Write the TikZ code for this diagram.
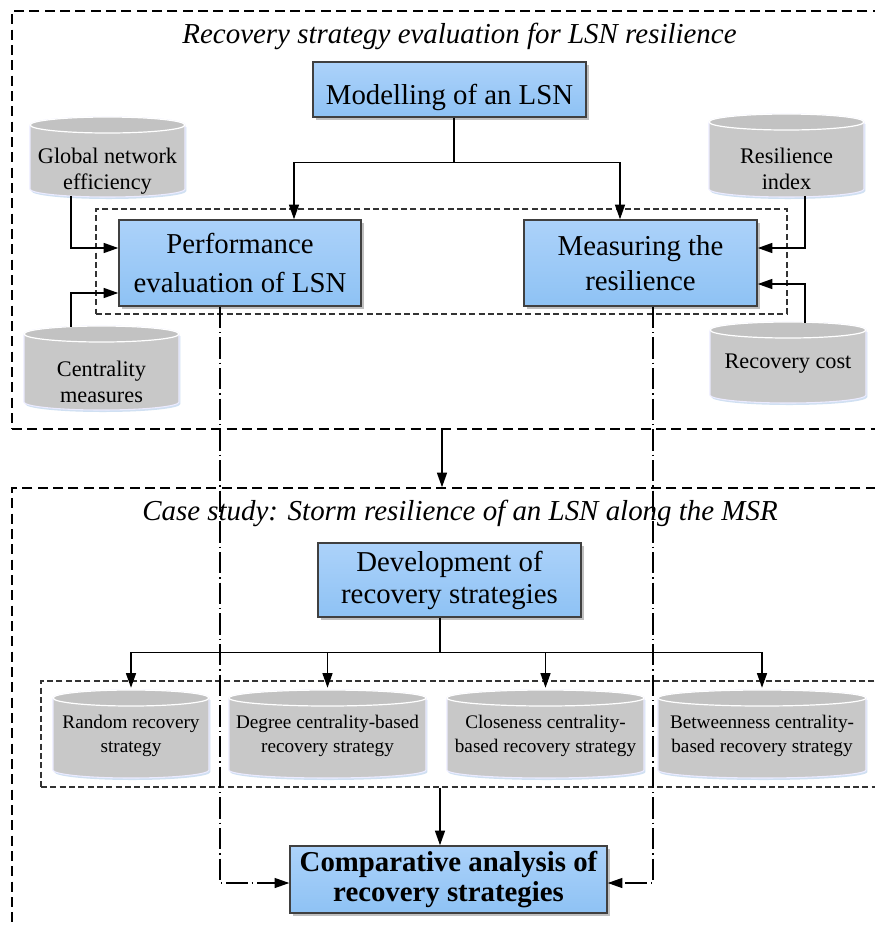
\documentclass[tikz,border=0pt]{standalone}
\usepackage{fontspec}
\setmainfont{Liberation Serif}
\usetikzlibrary{arrows.meta,shadows,calc}
\definecolor{boxtop}{RGB}{172,210,250}
\definecolor{boxbot}{RGB}{142,194,244}
\definecolor{cylbody}{RGB}{200,200,200}
\definecolor{cyltop}{RGB}{194,194,194}
\definecolor{cylglow}{RGB}{208,224,242}
\tikzset{
  bluebox/.style={draw=black!75, line width=1.1pt, top color=boxtop, bottom color=boxbot,
    align=center, inner sep=0pt,
    drop shadow={shadow xshift=2.2pt, shadow yshift=-2.2pt, fill=black!35, opacity=0.7},
    font=\fontsize{21.6}{27}\selectfont},
  conn/.style={line width=1.1pt, -{Triangle[length=11pt,width=7.5pt]}},
  plainline/.style={line width=1.1pt},
  dconn/.style={line width=0.9pt, dash pattern=on 16pt off 3pt on 1pt off 3pt,
    -{Triangle[length=11pt,width=7.5pt]}},
  outerdash/.style={draw=black, line width=1.1pt, dash pattern=on 7.5pt off 4pt, inner sep=0pt},
  innerdash/.style={draw=black!80, line width=0.8pt, dash pattern=on 4.5pt off 2.5pt, inner sep=0pt},
  titletext/.style={font=\fontsize{21.7}{26}\selectfont\itshape, anchor=base, inner sep=0pt},
  cyltxt/.style={align=center, inner sep=0pt, font=\fontsize{16.7}{19.5}\selectfont},
  cyltxtsmall/.style={align=center, inner sep=0pt, font=\fontsize{14.4}{18}\selectfont},
  cylbox/.style={inner sep=0pt, draw=none},
}
% name, x1, y1, x2, y2, text y, text style, text
\newcommand\cylnode[8]{%
  \pgfmathsetmacro\cxx{(#2+#4)/2}%
  \pgfmathsetmacro\cyy{(#3+#5)/2}%
  \pgfmathsetlengthmacro\rxx{(#4-#2)/2*0.75}%
  \pgfmathsetlengthmacro\wdd{(#4-#2)*0.75}%
  \pgfmathsetlengthmacro\htt{(#5-#3)*0.75}%
  \def\ryy{6pt}%
  \fill[cylglow] ([yshift=-\ryy-1.5pt,xshift=1pt]#2,#3) -- ([yshift=\ryy-1.5pt,xshift=1pt]#2,#5)
     arc[start angle=180,end angle=360,x radius=\rxx,y radius=\ryy]
     -- ([yshift=-\ryy-1.5pt,xshift=1pt]#4,#3) -- cycle;
  \filldraw[fill=cylbody, draw=white!92!blue, line width=0.8pt]
     ([yshift=-\ryy]#2,#3) -- ([yshift=\ryy]#2,#5)
     arc[start angle=180,end angle=360,x radius=\rxx,y radius=\ryy]
     -- ([yshift=-\ryy]#4,#3)
     arc[start angle=0,end angle=180,x radius=\rxx,y radius=\ryy] -- cycle;
  \filldraw[fill=cyltop, draw=white, line width=0.9pt]
     ([yshift=-\ryy]\cxx,#3) ellipse[x radius=\rxx, y radius=\ryy];
  \node[cylbox, minimum width=\wdd, minimum height=\htt] (#1) at (\cxx,\cyy) {};
  \node[#7] (#1-t) at (\cxx,#6) {#8};
}
\begin{document}
\begin{tikzpicture}[x=0.75pt,y=-0.75pt]
\useasboundingbox (0,0) rectangle (875,926);
\fill[white] (0,0) rectangle (875,926);

% section frames
\node[outerdash, minimum width=658.5pt, minimum height=313.5pt] (sec1) at (451,220) {};
\node[outerdash, minimum width=658.5pt, minimum height=342.75pt] (sec2) at (451,716.5) {};
\node[innerdash, minimum width=518.25pt, minimum height=78.75pt] (evalbox) at (441.5,261.5) {};
\node[innerdash, minimum width=636.75pt, minimum height=79.5pt] (stratbox) at (465.5,734) {};

% titles
\node[titletext] (title1) at (459.5,43) {Recovery strategy evaluation for LSN resilience};
\node[titletext] (title2) at (460,520) {Case study: Storm resilience of an LSN along the MSR};

% main boxes
\node[bluebox, minimum width=204.75pt, minimum height=41.25pt, text height=24pt, text depth=1pt] (model) at (449.5,89.5) {Modelling of an LSN};
\node[bluebox, minimum width=181.5pt, minimum height=64.5pt, font=\fontsize{21.6}{29}\selectfont] (perf) at (240,263) {Performance\\evaluation of LSN};
\node[bluebox, minimum width=174.75pt, minimum height=64.5pt, font=\fontsize{21.6}{26}\selectfont] (meas) at (640.5,263) {Measuring the\\resilience};
\node[bluebox, minimum width=197.25pt, minimum height=55.5pt, font=\fontsize{21.6}{24}\selectfont] (dev) at (449.5,580) {Development of\\recovery strategies};
\node[bluebox, minimum width=237.75pt, minimum height=50.25pt, font=\fontsize{21.6}{22.5}\selectfont\bfseries] (comp) at (448.5,879.5) {Comparative analysis of\\recovery strategies};

% dash-dot feedback lines
\draw[dconn] ([shift={(-20,0)}]perf.south) |- ([shift={(0,3.5)}]comp.west);
\draw[dconn] ([shift={(12.5,0)}]meas.south) |- ([shift={(0,3.5)}]comp.east);

% cylinders
\cylnode{gne}{30}{117}{185}{197}{171}{cyltxt}{Global network\\efficiency}
\cylnode{cen}{24}{326}{179}{410}{382}{cyltxt}{Centrality\\measures}
\cylnode{res}{709}{114}{864}{197}{169}{cyltxt}{Resilience\\index}
\cylnode{rcost}{710}{322}{866}{403}{364}{cyltxt}{Recovery cost}
\cylnode{rnd}{53}{690}{209}{778}{736}{cyltxtsmall}{Random recovery\\strategy}
\cylnode{deg}{229}{690}{426}{778}{736}{cyltxtsmall}{Degree centrality-based\\recovery strategy}
\cylnode{clo}{447}{690}{644}{778}{736}{cyltxtsmall}{Closeness centrality-\\based recovery strategy}
\cylnode{btw}{658}{690}{866}{778}{736}{cyltxtsmall}{Betweenness centrality-\\based recovery strategy}

% connectors, top section
\coordinate (mj) at ($(model.south)+(4.5,45)$);
\draw[plainline] ([shift={(4.5,0)}]model.south) -- (mj);
\draw[conn] (mj) -| ([shift={(54,0)}]perf.north);
\draw[conn] (mj) -| ([shift={(-20.5,0)}]meas.north);
\draw[conn] ([shift={(-36.5,-1)}]gne.south) |- ([shift={(0,-15)}]perf.west);
\draw[conn] ([shift={(-30.5,1)}]cen.north) |- ([shift={(0,30)}]perf.east -| perf.west);
\draw[conn] ([shift={(18.5,-1)}]res.south) |- ([shift={(0,-15)}]meas.east);
\draw[conn] ([shift={(17,1)}]rcost.north) |- ([shift={(0,21)}]meas.east);

% link between sections
\coordinate (link) at (442,429);
\draw[conn] (link) -- (link |- sec2.north);

% connectors, bottom section
\coordinate (dj) at ($(dev.south)+(-9.5,35)$);
\draw[plainline] ([shift={(-9.5,0)}]dev.south) -- (dj);
\draw[conn] (dj) -| ([shift={(0,-2)}]rnd.north);
\draw[conn] (dj) -| ([shift={(0,-2)}]deg.north);
\draw[conn] (dj) -| ([shift={(0,-2)}]clo.north);
\draw[conn] (dj) -| ([shift={(0,-2)}]btw.north);
\draw[conn] (stratbox.south -| dj) -- (comp.north -| dj);
\end{tikzpicture}
\end{document}
